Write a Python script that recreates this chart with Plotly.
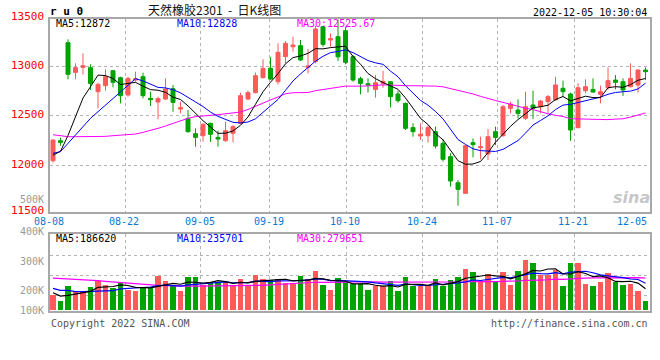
import plotly.graph_objects as go

# ---------------- data ----------------
opens = [12044, 12247, 13244, 12942, 12993, 12990, 12746, 12807, 12959, 12888,
         12712, 12864, 12898, 12678, 12641, 12671, 12776, 12569, 12471, 12319,
         12298, 12424, 12281, 12247, 12322, 12424, 12671, 12736, 12888, 12983,
         12847, 13102, 13203, 13214, 12993, 13051, 13407, 13271, 13305, 13366,
         13102, 12878, 12827, 12769, 12830, 12847, 12722, 12627, 12380, 12295,
         12298, 12339, 12220, 12085, 11820, 11712, 12227, 12176, 12112, 12339,
         12298, 12576, 12559, 12475, 12610, 12593, 12644, 12661, 12780, 12722,
         12380, 12756, 12769, 12719, 12786, 12864, 12847, 12797, 12814, 12966]
highs = [12261, 12278, 13278, 13034, 13136, 13024, 12837, 12973, 12966, 12898,
         12898, 12949, 12939, 12746, 12695, 12881, 12814, 12644, 12559, 12373,
         12424, 12430, 12349, 12441, 12407, 12736, 12756, 12939, 13075, 13095,
         13237, 13261, 13305, 13271, 13180, 13414, 13414, 13339, 13480, 13407,
         13119, 12898, 12881, 12915, 12959, 12854, 12756, 12634, 12424, 12424,
         12407, 12390, 12264, 12119, 11847, 12203, 12271, 12288, 12366, 12390,
         12610, 12644, 12668, 12746, 12756, 12661, 12712, 12898, 12858, 12736,
         12831, 12871, 12881, 12807, 12993, 12915, 12881, 13034, 12973, 12993]
lows = [12024, 12197, 12871, 12871, 12920, 12763, 12576, 12756, 12790, 12627,
        12695, 12847, 12678, 12600, 12468, 12661, 12542, 12525, 12329, 12186,
        12237, 12234, 12186, 12237, 12230, 12417, 12661, 12729, 12881, 12864,
        12820, 13034, 13153, 13058, 12932, 13034, 13203, 13203, 13058, 13024,
        12847, 12719, 12736, 12685, 12786, 12586, 12634, 12356, 12288, 12254,
        12227, 12169, 12034, 11780, 11586, 11705, 12078, 12058, 12051, 12203,
        12288, 12525, 12475, 12458, 12468, 12525, 12525, 12654, 12695, 12247,
        12373, 12729, 12736, 12627, 12769, 12769, 12702, 12786, 12736, 12864]
closes = [12254, 12230, 12922, 12990, 13010, 12830, 12820, 12898, 12841, 12705,
          12881, 12878, 12705, 12664, 12675, 12773, 12637, 12583, 12339, 12281,
          12414, 12312, 12264, 12349, 12390, 12705, 12736, 12908, 12983, 12875,
          13146, 13237, 13220, 13068, 13007, 13383, 13227, 13285, 13100, 13044,
          12864, 12830, 12814, 12837, 12851, 12695, 12654, 12373, 12339, 12312,
          12380, 12193, 12058, 11837, 11752, 12197, 12207, 12186, 12288, 12281,
          12593, 12620, 12525, 12593, 12576, 12651, 12695, 12814, 12746, 12356,
          12786, 12797, 12742, 12746, 12858, 12841, 12763, 12881, 12966, 12949]
# volume in thousands
vol_k = [141, 81, 222, 177, 177, 213, 264, 231, 204, 249,
         186, 177, 213, 204, 312, 267, 231, 177, 303, 303,
         231, 258, 258, 258, 222, 285, 231, 321, 285, 276,
         285, 249, 249, 312, 285, 357, 231, 186, 294, 258,
         240, 240, 186, 222, 216, 267, 177, 303, 216, 222,
         222, 285, 222, 276, 303, 375, 342, 258, 330, 267,
         348, 231, 357, 456, 423, 321, 321, 366, 222, 423,
         423, 240, 222, 258, 339, 258, 231, 240, 177, 87]

# moving-average values before the window is full
ma5_head = [12100, 12140, 12300, 12490]
ma10_head = [12119, 12136, 12220, 12305, 12390, 12475, 12542, 12610, 12678]
ma30_head = [12308, 12295, 12288, 12288, 12288, 12288, 12288, 12291, 12298, 12305,
             12310, 12315, 12332, 12349, 12373, 12397, 12424, 12451, 12475, 12492,
             12502, 12505, 12512, 12519, 12525, 12539, 12565, 12600, 12630]
vma5_head_k = [162, 132, 138, 150]
vma10_head_k = [201, 183, 183, 171, 171, 174, 180, 180, 180]
vma30_head_k = [294, 291, 288, 285, 282, 276, 270, 264, 258, 255,
                252, 246, 240, 234, 228, 225, 222, 222, 222, 222,
                222, 222, 222, 222, 222, 222, 224, 226, 228]

date_labels = ["08-08", "08-22", "09-05", "09-19", "10-10", "10-24", "11-07", "11-21", "12-05"]
date_ticks = [-0.4, 9.64, 19.69, 28.93, 39.07, 49.27, 59.33, 69.53, 79.6]
price_labels = [13500, 13000, 12500, 12000, 11500]
price_grid = [12000, 12500, 13000]
vol_label_text = ["500K", "400K", "300K", "200K", "100K"]

title_code = "r u 0"
title_text = "天然橡胶2301&nbsp;&nbsp;-&nbsp;&nbsp;日K线图"
timestamp = "2022-12-05 10:30:04"
ma_texts = ["MA5:12872", "MA10:12828", "MA30:12525.67"]
vma_texts = ["MA5:186620", "MA10:235701", "MA30:279651"]

# ---------------- derived ----------------
def moving_avg(values, n, head):
    out = list(head)
    for i in range(len(head), len(values)):
        out.append(sum(values[i - n + 1:i + 1]) / n)
    return out

x = list(range(len(closes)))
volumes = [v * 1000 for v in vol_k]
ma5 = moving_avg(closes, 5, ma5_head)
ma10 = moving_avg(closes, 10, ma10_head)
ma30 = moving_avg(closes, 30, ma30_head)
vma5 = moving_avg(volumes, 5, [v * 1000 for v in vma5_head_k])
vma10 = moving_avg(volumes, 10, [v * 1000 for v in vma10_head_k])
vma30 = moving_avg(volumes, 30, [v * 1000 for v in vma30_head_k])

RED = "#ff5a5a"
GREEN = "#00a300"
BLUE_TXT = "#0a78d2"
MONO = "DejaVu Sans Mono"
W, H = 660, 360
Y_RANGE = [11522, 13485]
PLOT_TOP, PLOT_BOTTOM = 19, 212


def py(p):
    return 1 - p / H


def pxx(p):
    return p / W


def price_to_px(v):
    return PLOT_TOP + (Y_RANGE[1] - v) / (Y_RANGE[1] - Y_RANGE[0]) * (PLOT_BOTTOM - PLOT_TOP)


bar_colors = [RED if c > o else GREEN for o, c in zip(opens, closes)]

fig = go.Figure()
fig.add_trace(go.Candlestick(
    x=x, open=opens, high=highs, low=lows, close=closes,
    increasing=dict(line=dict(color=RED, width=1), fillcolor=RED),
    decreasing=dict(line=dict(color=GREEN, width=1), fillcolor=GREEN),
    whiskerwidth=0, xaxis="x", yaxis="y", hoverinfo="skip"))
for vals, col in [(ma30, "#ff00ff"), (ma10, "#0000ff"), (ma5, "#000000")]:
    fig.add_trace(go.Scatter(x=x, y=vals, mode="lines", line=dict(color=col, width=1),
                             xaxis="x", yaxis="y", hoverinfo="skip"))

fig.add_trace(go.Bar(x=x, y=volumes, marker=dict(color=bar_colors, line=dict(width=0)),
                     width=0.76, xaxis="x2", yaxis="y2", hoverinfo="skip"))
for vals, col in [(vma30, "#ff00ff"), (vma10, "#0000ff"), (vma5, "#000000")]:
    fig.add_trace(go.Scatter(x=x, y=vals, mode="lines", line=dict(color=col, width=1.2),
                             xaxis="x2", yaxis="y2", hoverinfo="skip"))

grid = dict(showgrid=True, gridcolor="#b4b4b4", griddash="dot", gridwidth=1,
            zeroline=False, showline=True, mirror=True, linecolor="#a8a8a8",
            linewidth=2, showticklabels=False, ticks="", fixedrange=True)

fig.update_layout(
    width=W, height=H, autosize=False,
    margin=dict(l=0, r=0, t=0, b=0),
    paper_bgcolor="white", plot_bgcolor="white",
    showlegend=False, boxgap=0.24, bargap=0,
    xaxis=dict(domain=[pxx(50), pxx(650)], range=[-0.4, 79.6], anchor="y",
               tickvals=date_ticks[1:-1], rangeslider=dict(visible=False), **grid),
    yaxis=dict(domain=[py(PLOT_BOTTOM), py(PLOT_TOP)], range=Y_RANGE, anchor="x",
               tickvals=price_grid, **grid),
    xaxis2=dict(domain=[pxx(50), pxx(650)], range=[-0.4, 79.6], anchor="y2",
                tickvals=date_ticks[1:-1], **grid),
    yaxis2=dict(domain=[py(310.7), py(234.3)], range=[0, 688000], anchor="x2",
                tickvals=[141000, 321000, 501000], **grid),
)

ann = []
# price labels (edge labels are clamped to the frame, as in the reference)
for v in price_labels:
    ypx = min(max(price_to_px(v), 15), 211.7) - 1
    ann.append(dict(x=pxx(46), xref="paper", xanchor="right", y=py(ypx), yref="paper",
                    yanchor="middle", text=str(v), showarrow=False,
                    font=dict(family=MONO, size=11, color="#ff0000")))
# volume labels (as drawn in the reference)
for t, ypx in zip(vol_label_text, [199, 231, 261, 290.7, 310]):
    ann.append(dict(x=pxx(46), xref="paper", xanchor="right", y=py(ypx), yref="paper",
                    yanchor="middle", text=t, showarrow=False,
                    font=dict(family=MONO, size=10, color="#9a9a9a")))
# date labels
for k, (t, xv) in enumerate(zip(date_labels, date_ticks)):
    last = k == len(date_labels) - 1
    ann.append(dict(x=xv, xref="x", xanchor="right" if last else "center",
                    xshift=-1, y=py(221), yref="paper", yanchor="middle",
                    text=t, showarrow=False, font=dict(family=MONO, size=10, color=BLUE_TXT)))
# MA texts
for t, xp, col in zip(ma_texts, [54, 175, 295], ["#000000", "#0000ff", "#ff00ff"]):
    ann.append(dict(x=pxx(xp), xref="paper", xanchor="left", y=py(23.5), yref="paper",
                    yanchor="middle", text=t, showarrow=False,
                    font=dict(family=MONO, size=10, color=col)))
for t, xp, col in zip(vma_texts, [54, 175, 295], ["#000000", "#0000ff", "#ff00ff"]):
    ann.append(dict(x=pxx(xp), xref="paper", xanchor="left", y=py(238.5), yref="paper",
                    yanchor="middle", text=t, showarrow=False,
                    font=dict(family=MONO, size=10, color=col)))
# titles
ann.append(dict(x=pxx(48), xref="paper", xanchor="left", y=py(11.5), yref="paper",
                yanchor="middle", text="<b>" + title_code + "</b>", showarrow=False,
                font=dict(family=MONO, size=11, color="#000000")))
ann.append(dict(x=pxx(214), xref="paper", xanchor="center", y=py(9.5), yref="paper",
                yanchor="middle", text=title_text, showarrow=False,
                font=dict(family="Noto Sans CJK SC", size=12, color="#111111")))
ann.append(dict(x=pxx(649), xref="paper", xanchor="right", y=py(12.5), yref="paper",
                yanchor="middle", text=timestamp, showarrow=False,
                font=dict(family=MONO, size=10, color="#000000")))
ann.append(dict(x=pxx(49), xref="paper", xanchor="left", y=py(323.5), yref="paper",
                yanchor="middle", text="Copyright 2022 SINA.COM", showarrow=False,
                font=dict(family=MONO, size=10, color="#555555")))
ann.append(dict(x=pxx(650), xref="paper", xanchor="right", y=py(323.5), yref="paper",
                yanchor="middle", text="http://finance.sina.com.cn", showarrow=False,
                font=dict(family=MONO, size=10, color="#555555")))
ann.append(dict(x=pxx(652), xref="paper", xanchor="right", y=py(197), yref="paper",
                yanchor="middle", text="sina", showarrow=False,
                font=dict(family="DejaVu Sans", size=16, color="rgba(150,150,150,0.55)",
                          weight="bold", style="italic")))
fig.update_layout(annotations=ann)

fig.write_html("out.html", config={"displayModeBar": False},
               post_script="document.body.style.margin='0px';")
